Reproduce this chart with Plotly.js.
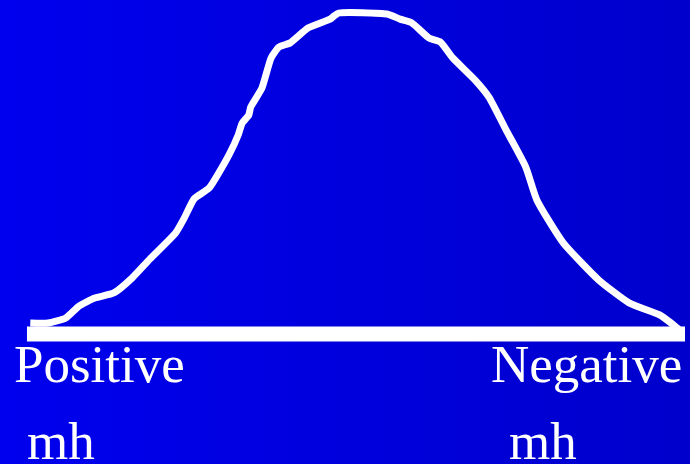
<!DOCTYPE html>
<html>
<head>
<meta charset="utf-8">
<script src="https://cdn.plot.ly/plotly-3.0.1.min.js"></script>
<style>
  html, body { margin: 0; padding: 0; }
  #chart { width: 690px; height: 464px; background: linear-gradient(to right, #0000EE, #0000CC); }
</style>
</head>
<body>
<div id="chart"></div>
<script>
// Hand-drawn distribution curve (x: position from positive to negative mh, y: relative frequency)
const curveX = [0.5, 3.2, 5.9, 7.9, 10.3, 13.2, 16.0, 18.7, 22.6, 23.9, 25.4, 27.7, 30.7, 32.1, 32.7, 33.7, 34.0, 35.7, 37.1, 38.3, 40.0, 42.7, 46.1, 46.5, 47.4, 54.7, 56.7, 58.5, 61.1, 62.8, 64.7, 68.1, 70.2, 72.8, 75.8, 77.5, 81.5, 86.9, 91.5, 96.2, 97.7, 99.7];
const curveY = [3.4, 3.4, 5.0, 8.7, 11.2, 12.8, 17.5, 23.4, 31.5, 36.1, 42.1, 45.5, 55.8, 62.0, 65.7, 68.2, 70.7, 76.6, 86.0, 89.4, 90.7, 95.3, 98.1, 98.8, 100.0, 99.7, 98.1, 96.9, 92.2, 91.0, 86.0, 79.1, 73.8, 63.6, 52.0, 41.7, 28.4, 16.8, 9.7, 5.9, 3.7, 0.3];
// Baseline (axis of the scale)
const baselineX = [0, 100];
const baselineY = [0, 0];
// Labels
const labelTop = ["Positive", "Negative"];
const labelBottom = ["mh", "mh"];

const traces = [
  { x: baselineX, y: baselineY, mode: 'lines', line: { color: '#FFFFFF', width: 15 }, hoverinfo: 'skip' },
  { x: curveX, y: curveY, mode: 'lines', line: { color: '#FFFFFF', width: 7, shape: 'spline', smoothing: 0.5 }, hoverinfo: 'skip' }
];

const font = { family: '"Liberation Serif", "Times New Roman", serif', size: 53, color: '#FFFFFF' };
const annotations = [
  { text: labelTop[0], xref: 'paper', yref: 'paper', x: 12 / 690, y: 1 - 364 / 464, xanchor: 'left', yanchor: 'middle', showarrow: false, font: font },
  { text: labelBottom[0], xref: 'paper', yref: 'paper', x: 25 / 690, y: 1 - 441 / 464, xanchor: 'left', yanchor: 'middle', showarrow: false, font: font },
  { text: labelTop[1], xref: 'paper', yref: 'paper', x: 489 / 690, y: 1 - 364 / 464, xanchor: 'left', yanchor: 'middle', showarrow: false, font: font },
  { text: labelBottom[1], xref: 'paper', yref: 'paper', x: 507 / 690, y: 1 - 441 / 464, xanchor: 'left', yanchor: 'middle', showarrow: false, font: font }
];

const layout = {
  width: 690, height: 464,
  margin: { l: 0, r: 0, t: 0, b: 0, pad: 0 },
  paper_bgcolor: 'rgba(0,0,0,0)',
  plot_bgcolor: 'rgba(0,0,0,0)',
  showlegend: false,
  xaxis: { visible: false, range: [-4.10, 100.76], fixedrange: true },
  yaxis: { visible: false, range: [-40.5, 104.05], fixedrange: true },
  annotations: annotations
};

Plotly.newPlot('chart', traces, layout, { displayModeBar: false, staticPlot: true });
</script>
</body>
</html>
